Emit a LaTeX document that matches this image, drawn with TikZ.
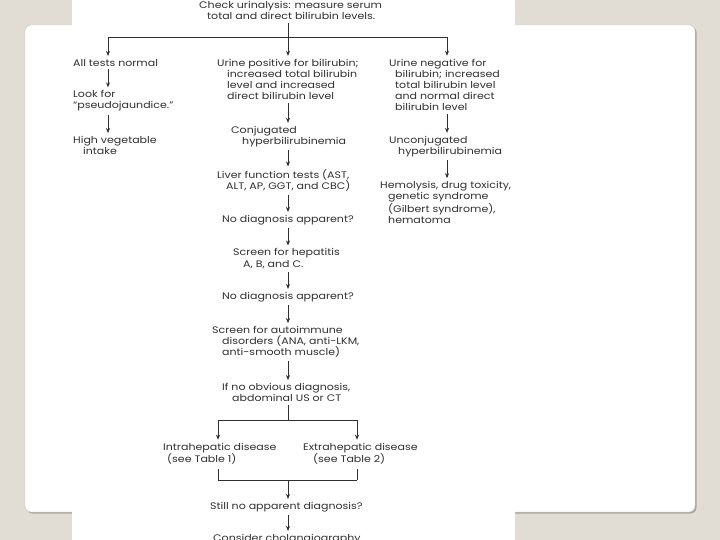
\documentclass[tikz,border=0pt]{standalone}
\usepackage{fontspec}
\setmainfont{Poppins}[FakeStretch=1.16]
\usetikzlibrary{arrows.meta}
\definecolor{bgbeige}{HTML}{E1DCD4}
\definecolor{frameedge}{HTML}{C9C4BB}
\definecolor{shadowc}{HTML}{ABA69D}
\definecolor{inkc}{HTML}{303030}
\begin{document}
\begin{tikzpicture}[x=1pt,y=-1pt,
  txt/.style={anchor=west, inner sep=0pt, align=left, font=\fontsize{9.5}{11.2}\selectfont, text=inkc},
  ln/.style={line width=0.6pt, draw=inkc},
  arr/.style={ln, -{Stealth[length=5pt,width=4pt]}, shorten >=3pt},
  arrn/.style={arr, shorten <=3pt}]
\useasboundingbox (0,0) rectangle (720,540);
\clip (0,0) rectangle (720,540);
% background, frame and page
\fill[bgbeige] (0,0) rectangle (720,540);
\fill[shadowc, rounded corners=6pt] (26.5,26.5) rectangle (696.5,513.5);
\filldraw[fill=white, draw=frameedge, rounded corners=6pt] (25,25) rectangle (695,512);
\fill[white] (72,0) rectangle (515,540);
% columns
\coordinate (cL) at (108,0);
\coordinate (cM) at (288,0);
\coordinate (cR) at (447,0);
\coordinate (cA) at (218,0);
\coordinate (cB) at (357,0);
\coordinate (bar1) at (288,37);
\coordinate (bar2) at (288,420);
\coordinate (bar3) at (288,480);
% nodes
\node[txt] (check) at (199,10.2) {Check urinalysis: measure serum\\\hspace*{8pt}total and direct bilirubin levels.};
\node[txt] (allnorm) at (73,62.7) {All tests normal};
\node[txt] (look) at (73,101) {Look for\\``pseudojaundice.''};
\node[txt] (veg) at (73,145.5) {High vegetable\\\hspace*{10pt}intake};
\node[txt] (pos) at (217,79.5) {Urine positive for bilirubin;\\\hspace*{10pt}increased total bilirubin\\\hspace*{10pt}level and increased\\\hspace*{10pt}direct bilirubin level};
\node[txt] (neg) at (389,85) {Urine negative for\\\hspace*{6pt}bilirubin; increased\\\hspace*{6pt}total bilirubin level\\\hspace*{6pt}and normal direct\\\hspace*{6pt}bilirubin level};
\node[txt] (conj) at (231,136.5) {Conjugated\\\hspace*{11pt}hyperbilirubinemia};
\node[txt] (unconj) at (389,146.5) {Unconjugated\\\hspace*{9pt}hyperbilirubinemia};
\node[txt] (hemo) at (380,202.5) {Hemolysis, drug toxicity,\\\hspace*{8pt}genetic syndrome\\\hspace*{8pt}(Gilbert syndrome),\\\hspace*{8pt}hematoma};
\node[txt] (lft) at (217,180.5) {Liver function tests (AST,\\\hspace*{9pt}ALT, AP, GGT, and CBC)};
\node[txt] (nd1) at (222,220) {No diagnosis apparent?};
\node[txt] (hep) at (233,258.5) {Screen for hepatitis\\\hspace*{10pt}A, B, and C.};
\node[txt] (nd2) at (222,297) {No diagnosis apparent?};
\node[txt] (auto) at (212,342) {Screen for autoimmune\\\hspace*{10pt}disorders (ANA, anti-LKM,\\\hspace*{10pt}anti-smooth muscle)};
\node[txt] (us) at (222,392.5) {If no obvious diagnosis,\\\hspace*{10pt}abdominal US or CT};
\node[txt] (intra) at (163,453.5) {Intrahepatic disease\\\hspace*{4pt}(see Table 1)};
\node[txt] (extra) at (303,453.5) {Extrahepatic disease\\\hspace*{10pt}(see Table 2)};
\node[txt] (still) at (210,507) {Still no apparent diagnosis?};
\node[txt] (cons) at (213,539) {Consider cholangiography};
% top split
\draw[ln, shorten <=3pt] (check.south -| cM) -- (bar1);
\draw[ln] (bar1 -| cL) -- (bar1 -| cR);
\draw[arr] (bar1 -| cL) -- (allnorm.north -| cL);
\draw[arr] (bar1) -- (pos.north -| cM);
\draw[arr] (bar1 -| cR) -- (neg.north -| cR);
% left column
\draw[arrn] (allnorm.south -| cL) -- (look.north -| cL);
\draw[arrn] (look.south -| cL) -- (veg.north -| cL);
% right column
\draw[arrn] (neg.south -| cR) -- (unconj.north -| cR);
\draw[arrn] (unconj.south -| cR) -- (hemo.north -| cR);
% middle column
\draw[arrn] (pos.south -| cM) -- (conj.north -| cM);
\draw[arrn] (conj.south -| cM) -- (lft.north -| cM);
\draw[arrn] (lft.south -| cM) -- (nd1.north -| cM);
\draw[arrn] (nd1.south -| cM) -- (hep.north -| cM);
\draw[arrn] (hep.south -| cM) -- (nd2.north -| cM);
\draw[arrn] (nd2.south -| cM) -- (auto.north -| cM);
\draw[arrn] (auto.south -| cM) -- (us.north -| cM);
% imaging split
\draw[ln, shorten <=3pt] (us.south -| cM) -- (bar2);
\draw[ln] (bar2 -| cA) -- (bar2 -| cB);
\draw[arr] (bar2 -| cA) -- (intra.north -| cA);
\draw[arr] (bar2 -| cB) -- (extra.north -| cB);
% merge
\draw[ln, shorten <=5pt] (intra.south -| cA) -- (bar3 -| cA);
\draw[ln, shorten <=5pt] (extra.south -| cB) -- (bar3 -| cB);
\draw[ln] (bar3 -| cA) -- (bar3 -| cB);
\draw[arr] (bar3) -- (still.north -| cM);
\draw[arrn] (still.south -| cM) -- (cons.north -| cM);
\end{tikzpicture}
\end{document}
